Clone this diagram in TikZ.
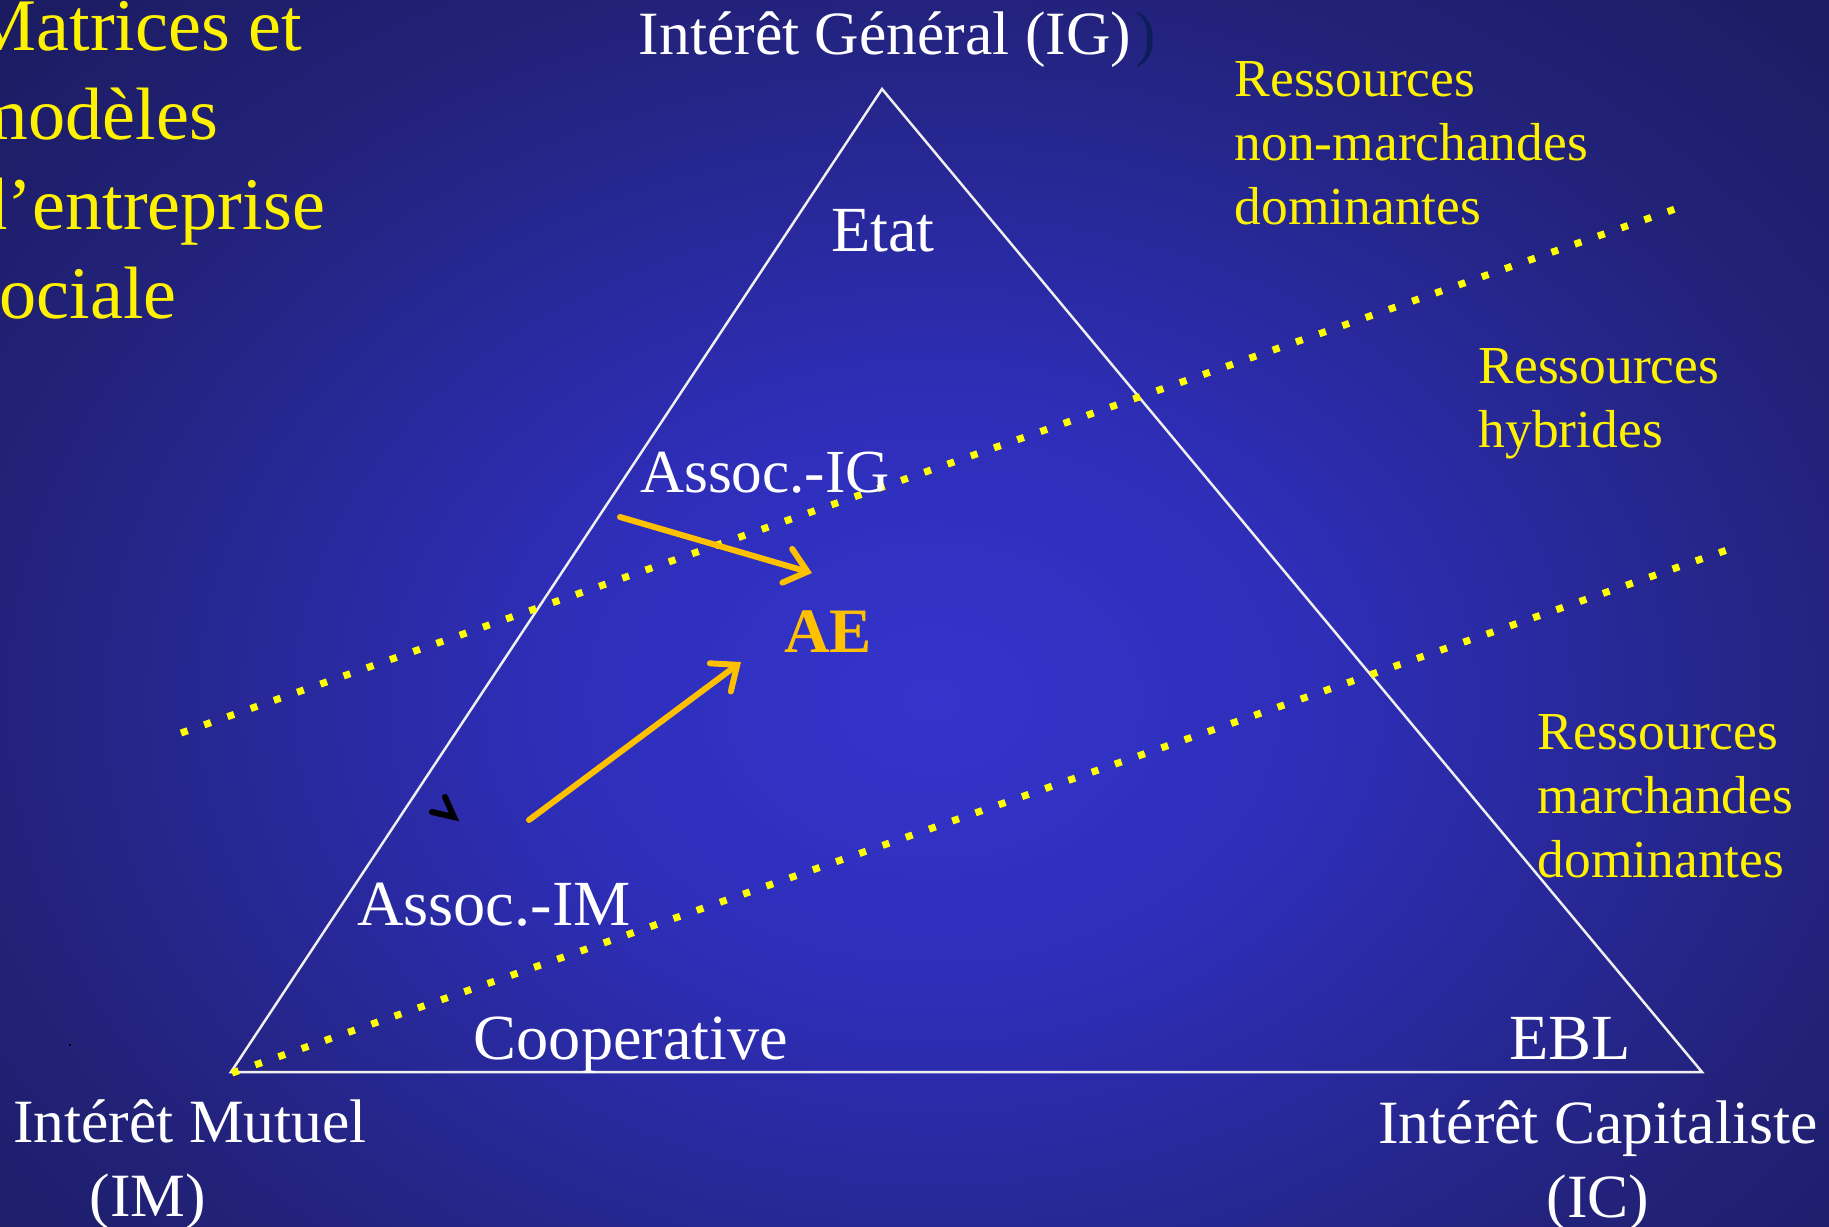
\documentclass[tikz,border=0pt]{standalone}
\usepackage{fontspec}
\setmainfont{Liberation Serif}
\usetikzlibrary{arrows.meta}
\definecolor{bgin}{RGB}{52,52,204}
\definecolor{bgmid}{RGB}{46,46,185}
\definecolor{bgedge}{RGB}{34,34,122}
\definecolor{bgout}{RGB}{26,26,92}
\definecolor{aegold}{RGB}{255,192,0}
\definecolor{dotyellow}{RGB}{255,255,0}
\definecolor{parendark}{RGB}{12,30,90}
\pgfdeclareradialshading{bgshade}{\pgfpoint{0bp}{0bp}}{color(0bp)=(bgin); color(10bp)=(bgmid); color(25bp)=(bgedge); color(36bp)=(bgout); color(50bp)=(bgout)}
\begin{document}
\begin{tikzpicture}[x=0.01cm,y=-0.01cm,
  lab/.style={text=white,font=\fontsize{18.3pt}{21pt}\selectfont,inner sep=0pt,anchor=base},
  clab/.style={lab,font=\fontsize{17.5pt}{21pt}\selectfont},
  res/.style={text=yellow,font=\fontsize{15.2pt}{18pt}\selectfont,inner sep=0pt,anchor=base west},
  ttl/.style={text=yellow,font=\fontsize{21.1pt}{25pt}\selectfont,inner sep=0pt,anchor=base west},
  tri/.style={draw=white!94!black,line width=0.7pt,line join=miter},
  dotline/.style={draw=dotyellow,line width=2pt,dash pattern=on 2pt off 5pt},
  flow/.style={draw=aegold,line width=1.7pt,line cap=round,-{Straight Barb[length=6pt,width=10pt,line cap=round]}}
]
\useasboundingbox (0,0) rectangle (1829,1226);
\clip (0,0) rectangle (1829,1226);
\shade[shading=bgshade] (-17,-20) rectangle (1883,1420);

% triangle
\coordinate (IGc) at (882,89);
\coordinate (IMc) at (231,1072);
\coordinate (ICc) at (1702,1072);
\draw[tri] (IGc) -- (IMc) -- (ICc) -- cycle;

% dotted separators
\coordinate (d1a) at (181,733);
\coordinate (d1b) at (1678,208);
\coordinate (d2a) at (232,1073);
\coordinate (d2b) at (1727,550);
\draw[dotline] (d1a) -- (d1b);
\draw[dotline] (d2a) -- (d2b);

% title
\node[ttl] (t1) at (-30,50) {Matrices et};
\node[ttl] (t2) at (-30,139.5) {modèles};
\node[ttl] (t3) at (-30,229) {d’entreprise};
\node[ttl] (t4) at (-30,318) {sociale};

% corner labels
\node[clab] (ig) at (885,54) {Intérêt Général (IG)};
\node[clab,anchor=base west,text=parendark] (igp) at ([xshift=1pt]ig.base east) {)};
\node[clab] (im1) at (190,1142) {Intérêt Mutuel};
\node[clab] (im2) at (148,1216) {(IM)};
\node[clab] (ic1) at (1598,1143) {Intérêt Capitaliste};
\node[clab] (ic2) at (1598,1217) {(IC)};

% inner labels
\node[lab] (etat) at (883,251) {Etat};
\node[lab,font=\fontsize{17.4pt}{21pt}\selectfont] (aig) at (765,492) {Assoc.-IG};
\node[lab,text=aegold,font=\fontsize{18pt}{21pt}\selectfont\bfseries] (ae) at (828,652) {AE};
\node[lab] (aim) at (494,925) {Assoc.-IM};
\node[lab] (coop) at (631,1059) {Cooperative};
\node[lab] (ebl) at (1570,1059) {EBL};

% resources
\node[res] (r1a) at (1234,96) {Ressources};
\node[res] (r1b) at (1234,160) {non-marchandes};
\node[res] (r1c) at (1234,224) {dominantes};
\node[res] (r2a) at (1478,383) {Ressources};
\node[res] (r2b) at (1478,447) {hybrides};
\node[res] (r3a) at (1537,749) {Ressources};
\node[res] (r3b) at (1537,813) {marchandes};
\node[res] (r3c) at (1537,877) {dominantes};

% arrows
\coordinate (a1s) at (620,517);
\coordinate (a1e) at (812,573);
\coordinate (a2s) at (529,820);
\coordinate (a2e) at (741,662);
\draw[flow] (a1s) -- (a1e);
\draw[flow] (a2s) -- (a2e);

% stray marks
\coordinate (mk1) at (445,797);
\coordinate (mk2) at (454,817);
\coordinate (mk3) at (432,812);
\draw[black,line width=1.7pt,line cap=round,line join=miter] (mk1) -- (mk2) -- (mk3);
\fill[black] (69,1044) rectangle (71,1046);
\end{tikzpicture}
\end{document}
